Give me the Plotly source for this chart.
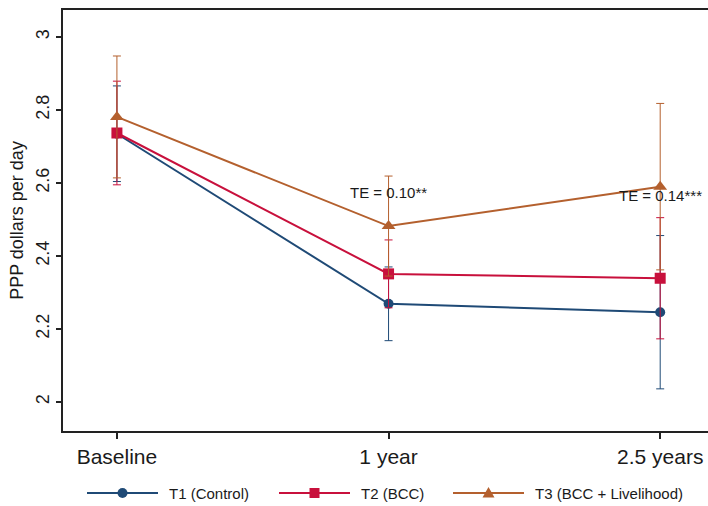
import plotly.graph_objects as go

# ---- data ----
categories = ["Baseline", "1 year", "2.5 years"]
x_pos = [0, 1, 2]

t1_mean = [2.735, 2.269, 2.246]
t1_err = [0.131, 0.101, 0.210]

t2_mean = [2.737, 2.351, 2.339]
t2_err = [0.142, 0.093, 0.166]

t3_mean = [2.781, 2.482, 2.590]
t3_err = [0.167, 0.137, 0.228]

series_names = ["T1 (Control)", "T2 (BCC)", "T3 (BCC + Livelihood)"]
series_colors = ["#1f4a76", "#c8103c", "#b4602e"]
series_symbols = ["circle", "square", "triangle-up"]
marker_sizes = [10, 11, 12]

te_labels = ["TE = 0.10**", "TE = 0.14***"]
te_x = [1, 2]
te_y = [2.573, 2.567]

y_ticks = [2, 2.2, 2.4, 2.6, 2.8, 3]
y_ticktext = ["2", "2.2", "2.4", "2.6", "2.8", "3"]

FONT = "Liberation Sans, Arial, sans-serif"
TXT = "#1a1a1a"

# layout geometry (pixels)
W, H = 708, 506
ML, MR, MT, MB = 63, 0, 10, 75
PW, PH = W - ML - MR, H - MT - MB

def px_x(p):
    return (p - ML) / PW

def px_y(p):
    return (H - MB - p) / PH

fig = go.Figure()
for mean, err, name, color, sym, ms in zip(
    [t1_mean, t2_mean, t3_mean], [t1_err, t2_err, t3_err],
    series_names, series_colors, series_symbols, marker_sizes):
    fig.add_trace(go.Scatter(
        x=x_pos, y=mean, name=name, mode="lines+markers",
        line=dict(color=color, width=2),
        marker=dict(symbol=sym, size=ms, color=color),
        error_y=dict(type="data", array=err, visible=True,
                     color=color, thickness=1, width=4),
        showlegend=False,
    ))

for lab, xx, yy in zip(te_labels, te_x, te_y):
    fig.add_annotation(x=xx, y=yy, text=lab, showarrow=False,
                       font=dict(family=FONT, size=15, color=TXT),
                       xanchor="center", yanchor="middle")

# ---- manual legend (long sample lines like the original) ----
leg_y_px = 493
leg_line_start = [87, 279, 453]
leg_line_len = 71
leg_text_gap = 9
ly = px_y(leg_y_px)
shapes = []
for name, color, sym, x0 in zip(series_names, series_colors, series_symbols, leg_line_start):
    shapes.append(dict(type="line", xref="paper", yref="paper",
                       x0=px_x(x0), x1=px_x(x0 + leg_line_len), y0=ly, y1=ly,
                       line=dict(color=color, width=2)))
    cx = px_x(x0 + leg_line_len / 2)
    common = dict(xref="paper", yref="paper", xsizemode="pixel", ysizemode="pixel",
                  xanchor=cx, yanchor=ly, fillcolor=color, line=dict(color=color, width=0))
    if sym == "circle":
        shapes.append(dict(type="circle", x0=-5, x1=5, y0=-5, y1=5, **common))
    elif sym == "square":
        shapes.append(dict(type="rect", x0=-5, x1=5, y0=-5, y1=5, **common))
    else:
        shapes.append(dict(type="path", path="M -6,-4.5 L 6,-4.5 L 0,6 Z", **common))
    fig.add_annotation(xref="paper", yref="paper", x=px_x(x0 + leg_line_len + leg_text_gap),
                       y=ly, text=name, showarrow=False, xanchor="left", yanchor="middle",
                       font=dict(family=FONT, size=15, color=TXT))

fig.update_xaxes(
    range=[-0.1985, 2.176], tickmode="array", tickvals=x_pos, ticktext=categories,
    showline=True, linecolor="#222222", linewidth=2, mirror=True,
    ticks="outside", ticklen=6, tickcolor="#222222", tickwidth=1.5,
    showgrid=False, zeroline=False, automargin=False,
    tickfont=dict(family=FONT, size=21, color=TXT),
)
fig.update_yaxes(
    range=[1.9205, 3.074], tickmode="array", tickvals=y_ticks, ticktext=y_ticktext,
    showline=True, linecolor="#222222", linewidth=2, mirror=False,
    ticks="outside", ticklen=5, tickcolor="#222222", tickwidth=1.5,
    showgrid=False, zeroline=False, tickangle=-90, automargin=False,
    tickfont=dict(family=FONT, size=18, color=TXT),
    title=dict(text="PPP dollars per day", standoff=4,
               font=dict(family=FONT, size=18, color=TXT)),
)

fig.update_layout(
    width=W, height=H,
    margin=dict(l=ML, r=MR, t=MT, b=MB, autoexpand=False),
    paper_bgcolor="white", plot_bgcolor="white",
    showlegend=False,
    shapes=shapes,
)

fig.write_html("out.html", config={"displayModeBar": False},
               post_script="document.body.style.margin='0';document.body.style.padding='0';")
